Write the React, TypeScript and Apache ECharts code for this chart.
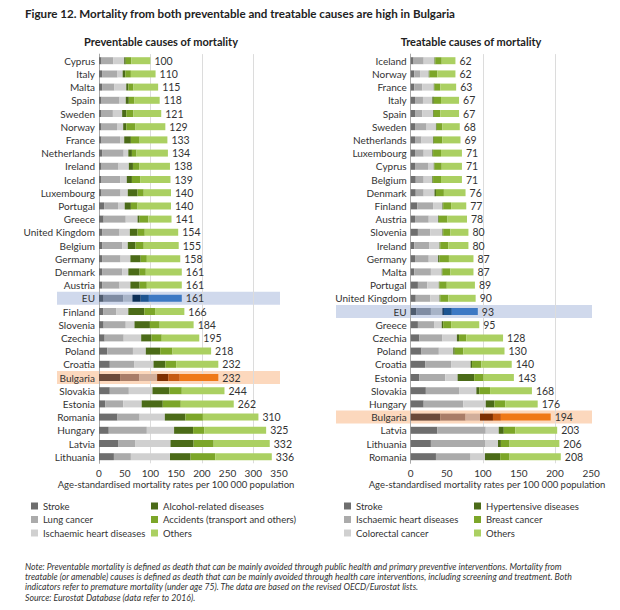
import React, { useEffect, useRef } from "react";
import * as echarts from "echarts";

const FONT = "Lato, 'Liberation Sans', sans-serif";

// ---------- Preventable causes (left) ----------
const leftCountries = [
  "Cyprus", "Italy", "Malta", "Spain", "Sweden", "Norway", "France", "Netherlands", "Ireland", "Iceland",
  "Luxembourg", "Portugal", "Greece", "United Kingdom", "Belgium", "Germany", "Denmark", "Austria", "EU",
  "Finland", "Slovenia", "Czechia", "Poland", "Croatia", "Bulgaria", "Slovakia", "Estonia", "Romania",
  "Hungary", "Latvia", "Lithuania",
];
const leftStroke = [5, 6, 6, 5, 5, 5, 5, 6, 5, 5, 5, 10, 9, 6, 6, 6, 6, 6, 9, 8, 9, 11, 16, 21, 41, 21, 12, 36, 19, 38, 29];
const leftLung = [23, 30, 24, 35, 22, 30, 36, 42, 33, 36, 37, 27, 43, 34, 39, 36, 39, 34, 38, 26, 43, 37, 50, 48, 37, 37, 35, 43, 74, 33, 33];
const leftIhd = [21, 10, 23, 12, 18, 12, 8, 9, 20, 13, 14, 13, 23, 20, 11, 19, 12, 21, 18, 23, 17, 34, 25, 37, 35, 46, 36, 49, 53, 68, 76];
const leftAlcohol = [3, 5, 4, 6, 8, 6, 13, 7, 8, 10, 19, 12, 4, 15, 15, 20, 22, 18, 16, 31, 30, 20, 28, 23, 22, 33, 41, 40, 37, 45, 40];
const leftAccidents = [11, 11, 10, 11, 14, 18, 17, 9, 12, 16, 12, 13, 17, 14, 16, 12, 12, 14, 16, 21, 19, 20, 24, 21, 22, 24, 35, 34, 22, 39, 48];
const leftOthers = [37, 48, 48, 49, 54, 58, 54, 61, 60, 59, 53, 65, 45, 65, 68, 65, 70, 68, 64, 57, 66, 73, 75, 82, 75, 83, 103, 108, 120, 109, 110];
const leftTotals = [100, 110, 115, 118, 121, 129, 133, 134, 138, 139, 140, 140, 141, 154, 155, 158, 161, 161, 161, 166, 184, 195, 218, 232, 232, 244, 262, 310, 325, 332, 336];
const leftNames = ["Stroke", "Lung cancer", "Ischaemic heart diseases", "Alcohol-related diseases", "Accidents (transport and others)", "Others"];

// ---------- Treatable causes (right) ----------
const rightCountries = [
  "Iceland", "Norway", "France", "Italy", "Spain", "Sweden", "Netherlands", "Luxembourg", "Cyprus", "Belgium",
  "Denmark", "Finland", "Austria", "Slovenia", "Ireland", "Germany", "Malta", "Portugal", "United Kingdom", "EU",
  "Greece", "Czechia", "Poland", "Croatia", "Estonia", "Slovakia", "Hungary", "Bulgaria", "Latvia", "Lithuania",
  "Romania",
];
const rightStroke = [4, 5, 5, 6, 6, 6, 6, 6, 6, 7, 7, 9, 6, 10, 5, 6, 5, 10, 7, 8, 10, 12, 15, 20, 12, 21, 18, 41, 37, 28, 35];
const rightIhd = [14, 8, 11, 11, 10, 16, 9, 12, 18, 11, 11, 22, 19, 17, 21, 19, 23, 13, 20, 20, 23, 32, 24, 36, 36, 46, 55, 35, 67, 75, 48];
const rightColorectal = [15, 12, 16, 13, 15, 13, 16, 12, 8, 12, 15, 13, 13, 17, 14, 13, 15, 16, 13, 16, 10, 20, 20, 27, 17, 24, 31, 20, 18, 18, 20];
const rightHypertensive = [1, 1, 1, 2, 1, 1, 1, 1, 1, 1, 2, 1, 1, 1, 1, 2, 1, 1, 1, 2, 2, 3, 2, 2, 23, 4, 12, 18, 7, 4, 21];
const rightBreast = [9, 11, 8, 10, 9, 8, 12, 11, 10, 11, 11, 11, 12, 10, 11, 13, 11, 10, 11, 11, 11, 10, 12, 13, 13, 15, 15, 11, 16, 12, 13];
const rightOthers = [19, 25, 22, 25, 26, 24, 25, 29, 28, 29, 30, 21, 27, 25, 28, 34, 32, 39, 38, 36, 39, 51, 57, 42, 42, 58, 45, 69, 58, 69, 71];
const rightTotals = [62, 62, 63, 67, 67, 68, 69, 71, 71, 71, 76, 77, 78, 80, 80, 87, 87, 89, 90, 93, 95, 128, 130, 140, 143, 168, 176, 194, 203, 206, 208];
const rightNames = ["Stroke", "Ischaemic heart diseases", "Colorectal cancer", "Hypertensive diseases", "Breast cancer", "Others"];

const leftTicks = { max: 350, interval: 50 };
const rightTicks = { max: 250, interval: 50 };

// ---------- colours ----------
const baseColors = ["#6e6e6e", "#ababab", "#d0d0d0", "#4b6b18", "#7ca629", "#abd062"];
const euColors = ["#4f5c6f", "#7f8ca3", "#a8b4c8", "#0c2f57", "#1d5592", "#3d79c4"];
const bgColors = ["#6b4a3a", "#a97d68", "#d1ae9b", "#7e2f02", "#c65a12", "#ef7918"];

function buildSeries(
  countries: string[],
  cols: number[][],
  names: string[],
  totals: number[],
  idx: number,
  stackName: string
) {
  return cols.map((col, k) => ({
    type: "bar",
    name: names[k],
    stack: stackName,
    xAxisIndex: idx * 2,
    yAxisIndex: idx,
    barWidth: 7,
    itemStyle: { color: baseColors[k] },
    emphasis: { disabled: true },
    data: col.map((v, i) => {
      if (countries[i] === "EU") return { value: v, itemStyle: { color: euColors[k] } };
      if (countries[i] === "Bulgaria") return { value: v, itemStyle: { color: bgColors[k] } };
      return v;
    }),
    label:
      k === cols.length - 1
        ? {
            show: true,
            position: "right",
            distance: 4,
            fontFamily: FONT,
            fontSize: 10.5,
            color: "#333",
            formatter: (p: any) => String(totals[p.dataIndex]),
          }
        : { show: false },
  }));
}

const gridTop = 54.1;
const gridHeight = 409.2;

function xAxes(gridIndex: number, ticks: { max: number; interval: number }) {
  return [
    {
      type: "value",
      gridIndex,
      min: 0,
      max: ticks.max,
      interval: ticks.interval,
      position: "bottom",
      axisLine: { show: false },
      axisTick: { show: false },
      splitLine: { show: false },
      axisLabel: { fontFamily: FONT, fontSize: 10, color: "#333", margin: 5 },
    },
    {
      type: "value",
      gridIndex,
      min: 0,
      max: ticks.max,
      interval: 100,
      position: "top",
      axisLine: { show: false },
      axisTick: { show: false },
      axisLabel: { show: false },
      splitLine: { show: true, showMinLine: false, showMaxLine: false, lineStyle: { color: "#dcdcdc", width: 1 } },
    },
  ];
}

function yAxis(gridIndex: number, countries: string[]) {
  return {
    type: "category",
    gridIndex,
    data: countries,
    inverse: true,
    axisTick: { show: false },
    axisLine: { show: true, lineStyle: { color: "#a8a8a8", width: 1 } },
    axisLabel: { interval: 0, fontFamily: FONT, fontSize: 10, color: "#333", margin: 4 },
  };
}

function legend(left: number, items: string[], colors: string[]) {
  return {
    left,
    top: 495,
    orient: "vertical",
    itemWidth: 7,
    itemHeight: 7,
    itemGap: 1.5,
    icon: "rect",
    selectedMode: false,
    textStyle: { fontFamily: FONT, fontSize: 9.5, color: "#333", lineHeight: 12, padding: [0, 0, 0, 0] },
    data: items.map((n, i) => ({ name: n, itemStyle: { color: colors[i] } })),
  };
}

const noteLines = [
  "Note: Preventable mortality is defined as death that can be mainly avoided through public health and primary preventive interventions. Mortality from",
  "treatable (or amenable) causes is defined as death that can be mainly avoided through health care interventions, including screening and treatment. Both",
  "indicators refer to premature mortality (under age 75). The data are based on the revised OECD/Eurostat lists.",
  "Source: Eurostat Database (data refer to 2016).",
];

export default function App() {
  const ref = useRef<HTMLDivElement>(null);
  useEffect(() => {
    const chart = echarts.init(ref.current!, null, { renderer: "svg" });
    const option: any = {
      animation: false,
      grid: [
        { left: 99, width: 180, top: gridTop, height: gridHeight },
        { left: 410.7, width: 180.4, top: gridTop, height: gridHeight },
      ],
      xAxis: [...xAxes(0, leftTicks), ...xAxes(1, rightTicks)],
      yAxis: [yAxis(0, leftCountries), yAxis(1, rightCountries)],
      legend: [
        legend(26, leftNames.slice(0, 3), baseColors.slice(0, 3)),
        legend(146, leftNames.slice(3), baseColors.slice(3)),
        legend(339, rightNames.slice(0, 3), baseColors.slice(0, 3)),
        legend(469, rightNames.slice(3), baseColors.slice(3)),
      ],
      series: [
        ...buildSeries(
          leftCountries,
          [leftStroke, leftLung, leftIhd, leftAlcohol, leftAccidents, leftOthers],
          leftNames,
          leftTotals,
          0,
          "prev"
        ),
        ...buildSeries(
          rightCountries,
          [rightStroke, rightIhd, rightColorectal, rightHypertensive, rightBreast, rightOthers],
          rightNames,
          rightTotals,
          1,
          "treat"
        ),
      ],
    };
    chart.setOption(option);

    const band = (axis: number, name: string, x1: number, x2: number, color: string) => {
      const y = chart.convertToPixel({ yAxisIndex: axis } as any, name) as unknown as number;
      return {
        type: "rect",
        silent: true,
        z: -10,
        shape: { x: x1, y: y - 6.5, width: x2 - x1, height: 13 },
        style: { fill: color },
      };
    };
    const text = (t: string, x: number, y: number, size: number, weight: string, align: string, extra: any = {}) => ({
      type: "text",
      x,
      y,
      silent: true,
      style: {
        text: t,
        fontFamily: FONT,
        fontSize: size,
        fontWeight: weight,
        fill: "#222",
        textAlign: align,
        textVerticalAlign: "middle",
        ...extra,
      },
    });

    chart.setOption({
      graphic: [
        band(0, "EU", 57, 280, "#d0d9ec"),
        band(0, "Bulgaria", 57, 280, "#fcd8bd"),
        band(1, "EU", 336, 592, "#d0d9ec"),
        band(1, "Bulgaria", 336, 592, "#fcd8bd"),
        text("Figure 12. Mortality from both preventable and treatable causes are high in Bulgaria", 25, 13.5, 11.6, "bold", "left"),
        text("Preventable causes of mortality", 161, 41.7, 11, "bold", "center"),
        text("Treatable causes of mortality", 471, 41.7, 11, "bold", "center"),
        text("Age-standardised mortality rates per 100 000 population", 176, 484.5, 9.5, "normal", "center", { fill: "#333" }),
        text("Age-standardised mortality rates per 100 000 population", 487, 484.5, 9.5, "normal", "center", { fill: "#333" }),
        {
          type: "text",
          x: 25,
          y: 561,
          silent: true,
          style: {
            text: noteLines.join("\n"),
            fontFamily: FONT,
            fontSize: 8.7,
            fontStyle: "italic",
            fill: "#333",
            lineHeight: 10.3,
            textAlign: "left",
            textVerticalAlign: "top",
          },
        },
      ],
    });
    return () => chart.dispose();
  }, []);
  return <div ref={ref} style={{ position: "absolute", left: 0, top: 0, width: 620, height: 610 }} />;
}
